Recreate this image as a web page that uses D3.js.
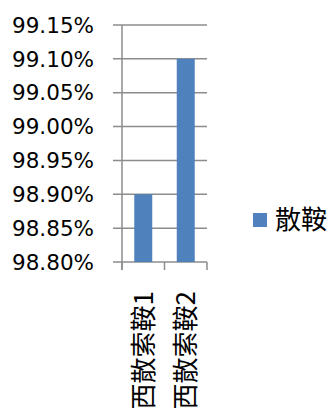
<!DOCTYPE html>
<html><head><meta charset="utf-8">
<script src="https://cdn.jsdelivr.net/npm/d3@7"></script>
<style>body{margin:0;background:#fff}svg{display:block}</style>
</head><body>
<svg id="c" width="331" height="411"></svg>
<script>
const categories = ["西散索鞍1", "西散索鞍2"];
const values = [0.989, 0.991];
const seriesName = "散鞍";
const yTicks = [0.988, 0.9885, 0.989, 0.9895, 0.990, 0.9905, 0.991, 0.9915];

(function () {
const svg = d3.select("#c");
const pLeft = 122, pRight = 207, pTop = 25, pBottom = 262;
const y = d3.scaleLinear().domain([0.988, 0.9915]).range([pBottom, pTop]);
const x = d3.scaleBand().domain(categories).range([pLeft, pRight]).paddingInner(0).paddingOuter(0);
const gray = "#8c8c8c";

svg.append("g").selectAll("line").data(yTicks).join("line")
  .attr("x1", pLeft - 9).attr("x2", pRight)
  .attr("y1", d => y(d)).attr("y2", d => y(d))
  .attr("stroke", gray).attr("stroke-width", 1.5);

svg.append("g").selectAll("text").data(yTicks).join("text")
  .attr("x", 94).attr("y", d => y(d)).attr("dy", "0.36em")
  .attr("text-anchor", "end")
  .attr("font-family", "'DejaVu Sans', sans-serif").attr("font-size", 21.5).attr("fill", "#000")
  .text(d => d3.format(".2%")(d));

svg.append("g").selectAll("rect").data(values).join("rect")
  .attr("x", (d, i) => x(categories[i]) + x.bandwidth() / 2 - 9)
  .attr("width", 18)
  .attr("y", d => y(d)).attr("height", d => pBottom - y(d))
  .attr("fill", "#4F81BD");

svg.append("line").attr("x1", pLeft).attr("x2", pLeft).attr("y1", pTop).attr("y2", pBottom + 8)
  .attr("stroke", gray).attr("stroke-width", 1.5);
const bt = [pLeft, ...categories.map(c => x(c) + x.bandwidth())];
svg.append("g").selectAll("line").data(bt).join("line")
  .attr("x1", d => d).attr("x2", d => d).attr("y1", pBottom).attr("y2", pBottom + 8)
  .attr("stroke", gray).attr("stroke-width", 1.5);

svg.append("g").selectAll("text").data(categories).join("text")
  .attr("transform", d => `translate(${x(d) + x.bandwidth() / 2},291) rotate(-90)`)
  .attr("text-anchor", "end").attr("dy", "0.36em")
  .attr("font-family", "'Noto Sans CJK TC', sans-serif").attr("font-size", 26).attr("fill", "#000")
  .text(d => d);

svg.append("rect").attr("x", 253).attr("y", 213).attr("width", 14).attr("height", 14).attr("fill", "#4F81BD");
svg.append("text").attr("x", 275).attr("y", 220).attr("dy", "0.36em")
  .attr("font-family", "'Noto Sans CJK TC', sans-serif").attr("font-size", 26).attr("fill", "#000")
  .text(seriesName);
})();
</script>
</body></html>
